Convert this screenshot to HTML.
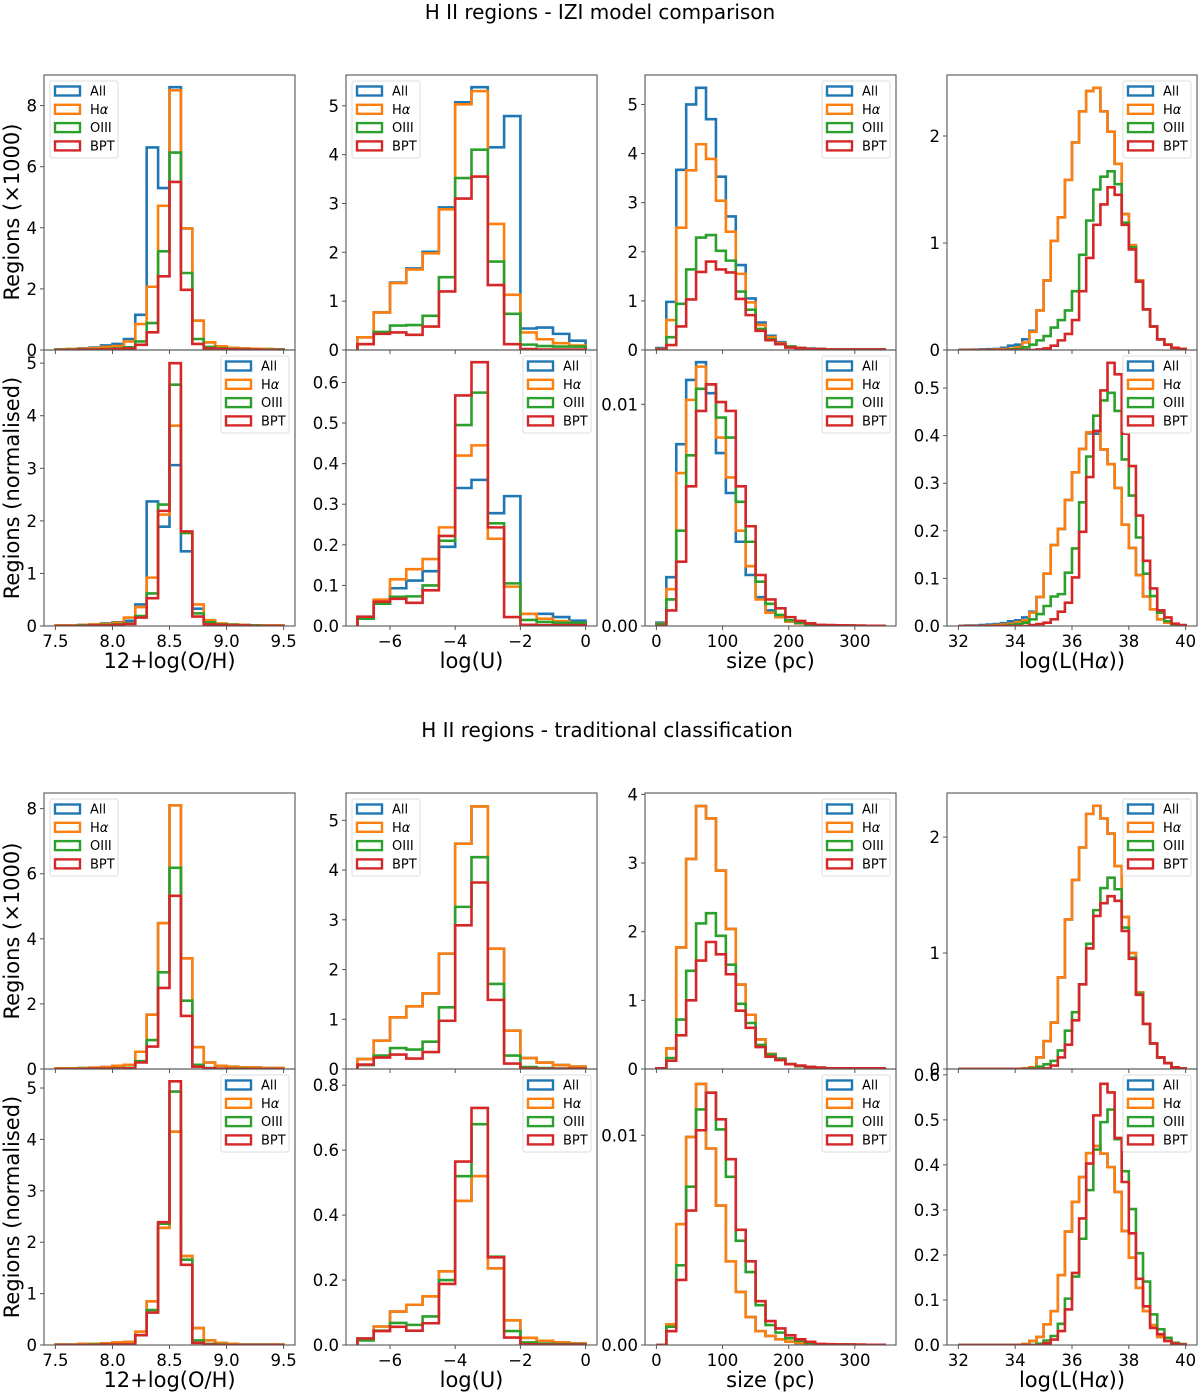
<!DOCTYPE html>
<html><head><meta charset="utf-8"><style>
html,body{margin:0;padding:0;background:#fff;}
svg{display:block;font-family:"DejaVu Sans","Liberation Sans",sans-serif;}
</style></head><body>
<svg id="fig" width="1200" height="1393" viewBox="0 0 1200 1393" xmlns="http://www.w3.org/2000/svg">
<text x="600" y="19" text-anchor="middle" font-size="20">H II regions - IZI model comparison</text>
<text x="607" y="737" text-anchor="middle" font-size="20">H II regions - traditional classification</text>
<text transform="translate(19,212) rotate(-90)" text-anchor="middle" font-size="21">Regions (×1000)</text>
<text transform="translate(19,488) rotate(-90)" text-anchor="middle" font-size="21">Regions (normalised)</text>
<text transform="translate(19,931) rotate(-90)" text-anchor="middle" font-size="21">Regions (×1000)</text>
<text transform="translate(19,1207) rotate(-90)" text-anchor="middle" font-size="21">Regions (normalised)</text>
</svg>
<script>
// bin definitions
const ohBins = [7.5, 0.1];
const uBins = [-7, 0.5];
const sizeBins = [0, 15];
const lhaBins = [32, 0.25];
const seriesNames = ["All", "Hα", "OIII", "BPT"];

// Panel A: IZI counts, 12+log(O/H)
const aAll = [0.02,0.03,0.05,0.08,0.15,0.2,0.36,1.15,6.63,5.3,8.6,3.98,0.96,0.25,0.12,0.07,0.05,0.04,0.03,0.02];
const aHa = [0.02,0.03,0.04,0.06,0.1,0.13,0.28,0.85,2.07,4.72,8.5,3.98,0.96,0.25,0.12,0.07,0.05,0.04,0.03,0.02];
const aO3 = [0.01,0.01,0.02,0.02,0.03,0.05,0.09,0.28,0.88,3.23,6.46,2.52,0.36,0.1,0.05,0.03,0.02,0.01,0.01,0.01];
const aBpt = [0,0,0.01,0.01,0.02,0.03,0.05,0.17,0.58,2.41,5.5,1.97,0.2,0.05,0.03,0.02,0.01,0.01,0,0];
// Panel B: IZI counts, log(U)
const bAll = [0.26,0.77,1.38,1.67,2.01,2.92,5.07,5.38,4.15,4.79,0.44,0.46,0.33,0.19];
const bHa = [0.26,0.77,1.37,1.65,1.98,2.88,5.03,5.3,2.58,1.13,0.36,0.22,0.14,0.09];
const bO3 = [0.12,0.37,0.5,0.51,0.7,1.49,3.52,4.1,1.81,0.74,0.11,0.08,0.07,0.07];
const bBpt = [0.12,0.33,0.36,0.31,0.48,1.2,3.1,3.55,1.33,0.12,0.02,0.01,0.01,0.01];
// Panel C: IZI counts, size
const cAll = [0.04,0.98,3.67,5.0,5.34,4.7,3.53,2.72,1.73,1.05,0.56,0.29,0.16,0.07,0.04,0.03,0.02,0.01,0.01,0.01,0.01,0.01,0.01];
const cHa = [0.02,0.61,2.49,3.66,4.19,3.89,3.04,2.41,1.55,0.97,0.51,0.26,0.14,0.07,0.04,0.02,0.02,0.01,0.01,0.01,0.01,0.01,0.01];
const cO3 = [0.01,0.26,0.94,1.64,2.29,2.34,2.02,1.82,1.19,0.82,0.43,0.22,0.12,0.07,0.04,0.02,0.02,0.01,0.01,0.01,0.01,0.01,0.01];
const cBpt = [0.01,0.1,0.48,1.03,1.59,1.8,1.64,1.58,1.04,0.71,0.39,0.2,0.12,0.05,0.04,0.02,0.02,0.01,0.01,0.01,0.01,0.01,0.01];
// Panel D: IZI counts, log L(Ha)
const dAll = [0,0.002,0.003,0.005,0.008,0.01,0.02,0.04,0.05,0.1,0.18,0.37,0.65,1.02,1.24,1.59,1.94,2.23,2.42,2.45,2.23,2.04,1.74,1.27,0.98,0.65,0.38,0.22,0.1,0.05,0.02,0.01];
const dHa = [0,0,0,0,0.002,0.005,0.008,0.012,0.025,0.07,0.17,0.37,0.65,1.02,1.24,1.59,1.94,2.23,2.42,2.45,2.23,2.04,1.74,1.27,0.98,0.65,0.38,0.22,0.1,0.05,0.02,0.01];
const dO3 = [0,0,0,0,0,0,0,0.005,0.01,0.025,0.05,0.09,0.13,0.21,0.28,0.37,0.55,0.89,1.21,1.5,1.62,1.67,1.55,1.19,0.96,0.64,0.38,0.22,0.1,0.05,0.02,0.01];
const dBpt = [0,0,0,0,0,0,0,0,0,0,0,0.005,0.015,0.04,0.09,0.15,0.28,0.55,0.86,1.17,1.36,1.52,1.45,1.17,0.94,0.64,0.38,0.22,0.1,0.05,0.02,0.01];
// Panel E: IZI normalised, O/H
const eAll = [0.01,0.01,0.02,0.03,0.05,0.07,0.1,0.41,2.37,1.89,3.06,1.42,0.33,0.09,0.04,0.03,0.02,0.01,0.01,0.01];
const eHa = [0.01,0.01,0.02,0.03,0.04,0.06,0.16,0.36,0.92,2.12,3.81,1.77,0.41,0.11,0.05,0.03,0.02,0.01,0.01,0.01];
const eO3 = [0,0,0.01,0.01,0.02,0.03,0.05,0.19,0.62,2.31,4.59,1.77,0.24,0.07,0.03,0.02,0.01,0.01,0,0];
const eBpt = [0,0,0,0.01,0.01,0.02,0.04,0.16,0.53,2.19,5.0,1.8,0.18,0.03,0.02,0.01,0.01,0,0,0];
// Panel F: IZI normalised, log(U)
const fAll = [0.02,0.055,0.093,0.112,0.135,0.195,0.34,0.36,0.278,0.32,0.03,0.03,0.022,0.013];
const fHa = [0.02,0.065,0.115,0.14,0.165,0.243,0.42,0.445,0.215,0.097,0.03,0.018,0.012,0.008];
const fO3 = [0.018,0.055,0.072,0.073,0.1,0.21,0.495,0.575,0.253,0.105,0.015,0.01,0.008,0.008];
const fBpt = [0.023,0.06,0.067,0.057,0.088,0.222,0.568,0.65,0.243,0.022,0.003,0.002,0.002,0.002];
// Panel G: IZI normalised, size
const gAll = [0.00015,0.0022,0.0082,0.0111,0.0119,0.0105,0.0078,0.006,0.0038,0.0023,0.0013,0.0007,0.0004,0.0002,0.00012,0.00007,0.00003,0.00003,0.00002,0.00002,0.00001,0.00001,0.00001];
const gHa = [0.0001,0.00166,0.0069,0.0102,0.0117,0.0109,0.0085,0.0067,0.0043,0.0027,0.0012,0.0006,0.0004,0.0002,0.00012,0.00007,0.00003,0.00003,0.00002,0.00002,0.00001,0.00001,0.00001];
const gO3 = [0.00008,0.0012,0.0043,0.0077,0.0107,0.0109,0.0094,0.0085,0.0056,0.0038,0.002,0.001,0.0005,0.00026,0.00015,0.00008,0.00004,0.00003,0.00002,0.00002,0.00001,0.00001,0.00001];
const gBpt = [0,0.0007,0.0029,0.0063,0.0097,0.0109,0.0101,0.0097,0.0063,0.0045,0.0023,0.0012,0.0008,0.0004,0.00023,0.00012,0.00005,0.00004,0.00003,0.00002,0.00002,0.00001,0.00001];
// Panel H: IZI normalised, log L(Ha)
const hAll = [0,0.001,0.001,0.002,0.003,0.004,0.006,0.01,0.012,0.018,0.03,0.061,0.11,0.17,0.204,0.265,0.323,0.372,0.405,0.404,0.371,0.34,0.29,0.213,0.164,0.107,0.062,0.035,0.014,0.007,0.003,0.001];
const hHa = [0,0,0,0,0.001,0.002,0.003,0.005,0.008,0.012,0.028,0.061,0.11,0.17,0.204,0.265,0.323,0.372,0.407,0.41,0.371,0.34,0.29,0.213,0.164,0.107,0.062,0.035,0.014,0.007,0.003,0.001];
const hO3 = [0,0,0,0,0,0,0,0.002,0.004,0.007,0.014,0.025,0.042,0.062,0.067,0.112,0.163,0.26,0.356,0.442,0.474,0.49,0.452,0.35,0.274,0.186,0.11,0.063,0.028,0.01,0.004,0.001];
const hBpt = [0,0,0,0,0,0,0,0,0,0,0.002,0.004,0.007,0.014,0.03,0.049,0.102,0.198,0.313,0.41,0.495,0.553,0.529,0.404,0.336,0.232,0.137,0.079,0.033,0.018,0.005,0.002];
// Panel I: traditional counts, O/H
const iAll = [0.02,0.02,0.03,0.04,0.06,0.1,0.13,0.53,1.67,4.48,8.1,3.4,0.67,0.2,0.1,0.07,0.05,0.05,0.03,0.03];
const iHa = [0.02,0.02,0.03,0.04,0.06,0.1,0.13,0.53,1.67,4.48,8.1,3.4,0.67,0.2,0.1,0.07,0.05,0.05,0.03,0.03];
const iO3 = [0,0,0.01,0.01,0.01,0.02,0.03,0.24,0.89,2.97,6.18,2.1,0.13,0.03,0.01,0.01,0.01,0,0,0];
const iBpt = [0,0,0,0.01,0.01,0.01,0.02,0.2,0.69,2.49,5.32,1.63,0.07,0.02,0.01,0,0,0,0,0];
// Panel J: traditional counts, log(U)
const jAll = [0.2,0.57,1.04,1.26,1.52,2.32,4.53,5.28,2.42,0.77,0.22,0.13,0.08,0.05];
const jHa = [0.2,0.57,1.04,1.26,1.52,2.32,4.53,5.28,2.42,0.77,0.22,0.13,0.08,0.05];
const jO3 = [0.08,0.27,0.42,0.39,0.55,1.24,3.26,4.26,1.71,0.27,0.04,0.02,0.01,0.01];
const jBpt = [0.09,0.23,0.29,0.21,0.34,0.97,2.89,3.75,1.39,0.11,0.01,0.005,0.005,0.005];
// Panel K: traditional counts, size
const kAll = [0.01,0.3,1.77,3.06,3.83,3.65,2.89,2.04,1.23,0.79,0.43,0.22,0.15,0.07,0.04,0.03,0.02,0.01,0.01,0.01,0.01,0.01,0.01];
const kHa = [0.01,0.3,1.77,3.06,3.83,3.65,2.89,2.04,1.23,0.79,0.43,0.22,0.15,0.07,0.04,0.03,0.02,0.01,0.01,0.01,0.01,0.01,0.01];
const kO3 = [0.01,0.16,0.72,1.43,2.12,2.27,1.94,1.52,0.95,0.67,0.35,0.21,0.15,0.07,0.04,0.03,0.02,0.01,0.01,0.01,0.01,0.01,0.01];
const kBpt = [0.01,0.12,0.49,1.0,1.58,1.85,1.67,1.38,0.85,0.6,0.32,0.18,0.13,0.07,0.05,0.03,0.02,0.01,0.01,0.01,0.01,0.01,0.01];
// Panel L: traditional counts, log L(Ha)
const lAll = [0,0,0,0,0,0,0,0,0.002,0.005,0.015,0.1,0.24,0.4,0.79,1.29,1.63,1.91,2.2,2.27,2.16,2.03,1.75,1.31,1.0,0.66,0.39,0.22,0.1,0.05,0.015,0.005];
const lHa = [0,0,0,0,0,0,0,0,0.002,0.005,0.015,0.1,0.24,0.4,0.79,1.29,1.63,1.91,2.2,2.27,2.16,2.03,1.75,1.31,1.0,0.66,0.39,0.22,0.1,0.05,0.015,0.005];
const lO3 = [0,0,0,0,0,0,0,0,0,0,0.005,0.02,0.04,0.07,0.16,0.33,0.49,0.73,1.08,1.37,1.56,1.65,1.55,1.22,0.96,0.65,0.39,0.22,0.1,0.05,0.015,0.005];
const lBpt = [0,0,0,0,0,0,0,0,0,0,0,0,0.005,0.03,0.1,0.21,0.42,0.73,1.04,1.32,1.43,1.49,1.45,1.19,0.95,0.64,0.39,0.22,0.1,0.05,0.015,0.005];
// Panel M: traditional normalised, O/H
const mAll = [0.01,0.01,0.02,0.02,0.03,0.05,0.06,0.26,0.85,2.28,4.15,1.73,0.33,0.09,0.04,0.02,0.01,0.01,0.01,0.01];
const mHa = [0.01,0.01,0.02,0.02,0.03,0.05,0.06,0.26,0.85,2.28,4.15,1.73,0.33,0.09,0.04,0.02,0.01,0.01,0.01,0.01];
const mO3 = [0,0,0,0.01,0.01,0.01,0.01,0.19,0.68,2.36,4.93,1.66,0.09,0.02,0.01,0,0,0,0,0];
const mBpt = [0,0,0,0,0.01,0.01,0.01,0.19,0.63,2.39,5.13,1.56,0.04,0.01,0,0,0,0,0,0];
// Panel N: traditional normalised, log(U)
const nAll = [0.02,0.057,0.103,0.124,0.15,0.227,0.444,0.52,0.236,0.076,0.022,0.013,0.008,0.005];
const nHa = [0.02,0.057,0.103,0.124,0.15,0.227,0.444,0.52,0.236,0.076,0.022,0.013,0.008,0.005];
const nO3 = [0.014,0.044,0.068,0.062,0.088,0.2,0.52,0.68,0.272,0.043,0.008,0.004,0.003,0.002];
const nBpt = [0.02,0.043,0.056,0.044,0.067,0.188,0.565,0.73,0.27,0.023,0.002,0.001,0.001,0.001];
// Panel O: traditional normalised, size
const oAll = [0,0.00098,0.00576,0.00992,0.01245,0.00937,0.00665,0.00399,0.00253,0.00133,0.00066,0.00043,0.00027,0.00016,0.0001,0.00006,0.00003,0.00003,0.00002,0.00002,0.00001,0.00001,0.00001];
const oHa = [0,0.00098,0.00576,0.00992,0.01245,0.00937,0.00665,0.00399,0.00253,0.00133,0.00066,0.00043,0.00027,0.00016,0.0001,0.00006,0.00003,0.00003,0.00002,0.00002,0.00001,0.00001,0.00001];
const oO3 = [0,0.00087,0.0038,0.00755,0.01123,0.01203,0.01028,0.00802,0.00497,0.00348,0.0019,0.00095,0.00059,0.00032,0.0002,0.0001,0.00004,0.00003,0.00002,0.00002,0.00001,0.00001,0.00001];
const oBpt = [0,0.00066,0.0031,0.00641,0.01024,0.01203,0.01076,0.00886,0.00549,0.00399,0.00209,0.00114,0.00079,0.00046,0.00027,0.00015,0.00005,0.00004,0.00003,0.00002,0.00002,0.00001,0.00001];
// Panel P: traditional normalised, log L(Ha)
const pAll = [0,0,0,0,0,0,0,0,0,0.002,0.009,0.018,0.046,0.075,0.155,0.252,0.318,0.373,0.426,0.442,0.425,0.395,0.34,0.253,0.194,0.127,0.075,0.044,0.018,0.009,0.003,0.001];
const pHa = [0,0,0,0,0,0,0,0,0,0.002,0.009,0.018,0.046,0.075,0.155,0.252,0.318,0.373,0.426,0.442,0.425,0.395,0.34,0.253,0.194,0.127,0.075,0.044,0.018,0.009,0.003,0.001];
const pO3 = [0,0,0,0,0,0,0,0,0,0,0,0.003,0.01,0.02,0.047,0.103,0.152,0.236,0.344,0.434,0.495,0.523,0.457,0.386,0.302,0.204,0.141,0.068,0.035,0.016,0.005,0.002];
const pBpt = [0,0,0,0,0,0,0,0,0,0,0,0,0.004,0.012,0.031,0.079,0.16,0.281,0.403,0.51,0.58,0.561,0.46,0.362,0.248,0.147,0.086,0.038,0.024,0.009,0.003,0.001];

// tick labels
const ohTicks = [7.5, 8.0, 8.5, 9.0, 9.5];
const ohTickLabels = ["7.5", "8.0", "8.5", "9.0", "9.5"];
const uTicks = [-6, -4, -2, 0];
const uTickLabels = ["−6", "−4", "−2", "0"];
const sizeTicks = [0, 100, 200, 300];
const sizeTickLabels = ["0", "100", "200", "300"];
const lhaTicks = [32, 34, 36, 38, 40];
const lhaTickLabels = ["32", "34", "36", "38", "40"];

const NS = "http://www.w3.org/2000/svg";
const svg = document.getElementById("fig");
const colors = ["#1f77b4", "#ff7f0e", "#2ca02c", "#d62728"];
const colX = [[44,295],[346,597],[645,896],[947,1197]];
const rowY = [[75,350],[350,626],[793,1069],[1069,1345]];
const xAxes = [
  {lim:[7.4,9.6], bins:ohBins, ticks:ohTicks, labels:ohTickLabels, title:"12+log(O/H)", key:"oh"},
  {lim:[-7.35,0.35], bins:uBins, ticks:uTicks, labels:uTickLabels, title:"log(U)", key:"logu"},
  {lim:[-17.25,362.25], bins:sizeBins, ticks:sizeTicks, labels:sizeTickLabels, title:"size (pc)", key:"size"},
  {lim:[31.6,40.4], bins:lhaBins, ticks:lhaTicks, labels:lhaTickLabels, title:"log(L(Hα))", key:"lha"}
];
function el(tag, attrs, parent){
  const e = document.createElementNS(NS, tag);
  for (const k in attrs) e.setAttribute(k, attrs[k]);
  (parent || svg).appendChild(e);
  return e;
}
const panels = [
  {r:0,c:0,s:[aAll,aHa,aO3,aBpt],ymax:9.0,yt:[0,2,4,6,8],dec:0,leg:"left"},
  {r:0,c:1,s:[bAll,bHa,bO3,bBpt],ymax:5.63,yt:[0,1,2,3,4,5],dec:0,leg:"left"},
  {r:0,c:2,s:[cAll,cHa,cO3,cBpt],ymax:5.6,yt:[0,1,2,3,4,5],dec:0,leg:"right"},
  {r:0,c:3,s:[dAll,dHa,dO3,dBpt],ymax:2.57,yt:[0,1,2],dec:0,leg:"right"},
  {r:1,c:0,s:[eAll,eHa,eO3,eBpt],ymax:5.25,yt:[0,1,2,3,4,5],dec:0,leg:"right"},
  {r:1,c:1,s:[fAll,fHa,fO3,fBpt],ymax:0.68,yt:[0,0.1,0.2,0.3,0.4,0.5,0.6],dec:1,leg:"right"},
  {r:1,c:2,s:[gAll,gHa,gO3,gBpt],ymax:0.01245,yt:[0,0.01],dec:2,leg:"right"},
  {r:1,c:3,s:[hAll,hHa,hO3,hBpt],ymax:0.58,yt:[0,0.1,0.2,0.3,0.4,0.5],dec:1,leg:"right"},
  {r:2,c:0,s:[iAll,iHa,iO3,iBpt],ymax:8.48,yt:[0,2,4,6,8],dec:0,leg:"left"},
  {r:2,c:1,s:[jAll,jHa,jO3,jBpt],ymax:5.55,yt:[0,1,2,3,4,5],dec:0,leg:"left"},
  {r:2,c:2,s:[kAll,kHa,kO3,kBpt],ymax:4.02,yt:[0,1,2,3,4],dec:0,leg:"right"},
  {r:2,c:3,s:[lAll,lHa,lO3,lBpt],ymax:2.38,yt:[0,1,2],dec:0,leg:"right"},
  {r:3,c:0,s:[mAll,mHa,mO3,mBpt],ymax:5.37,yt:[0,1,2,3,4,5],dec:0,leg:"right"},
  {r:3,c:1,s:[nAll,nHa,nO3,nBpt],ymax:0.85,yt:[0,0.2,0.4,0.6,0.8],dec:1,leg:"right"},
  {r:3,c:2,s:[oAll,oHa,oO3,oBpt],ymax:0.01316,yt:[0,0.01],dec:2,leg:"right"},
  {r:3,c:3,s:[pAll,pHa,pO3,pBpt],ymax:0.613,yt:[0,0.1,0.2,0.3,0.4,0.5,0.6],dec:1,leg:"right"}
];
const rowNames = ["izi-counts","izi-normalised","traditional-counts","traditional-normalised"];
panels.forEach((p, pi) => {
  const [X0, X1] = colX[p.c], [Y0, Y1] = rowY[p.r];
  const ax = xAxes[p.c];
  const sx = v => X0 + (v - ax.lim[0]) / (ax.lim[1] - ax.lim[0]) * (X1 - X0);
  const sy = v => Y1 - v / p.ymax * (Y1 - Y0);
  const g = el("g", {});
  
  
  const cid = "clip" + pi;
  const cp = el("clipPath", {id: cid}, g);
  el("rect", {x: X0, y: Y0, width: X1 - X0, height: Y1 - Y0}, cp);
  p.s.forEach((vals, si) => {
    const [start, w] = ax.bins;
    let d = "M" + sx(start).toFixed(2) + "," + sy(0).toFixed(2);
    vals.forEach((v, i) => {
      const xa = sx(start + i * w), xb = sx(start + (i + 1) * w), y = sy(v);
      d += " L" + xa.toFixed(2) + "," + y.toFixed(2) + " L" + xb.toFixed(2) + "," + y.toFixed(2);
    });
    d += " L" + sx(start + vals.length * w).toFixed(2) + "," + sy(0).toFixed(2);
    const path = el("path", {d: d, fill: "none", stroke: colors[si], "stroke-width": 2.6, "stroke-linejoin": "miter", "clip-path": "url(#" + cid + ")"}, g);
    
    
  });
  const fr = el("rect", {x: X0, y: Y0, width: X1 - X0, height: Y1 - Y0, fill: "none", stroke: "#555", "stroke-width": 1.1}, g);
  
  
  p.yt.forEach(t => {
    const y = sy(t);
    el("line", {x1: X0 - 4, x2: X0, y1: y, y2: y, stroke: "#555", "stroke-width": 1}, g);
    const tx = el("text", {x: X0 - 7, y: y + 6, "text-anchor": "end", "font-size": 16.5}, g);
    tx.textContent = t.toFixed(p.dec);
    
    
  });
  ax.ticks.forEach((t, ti) => {
    const x = sx(t);
    el("line", {x1: x, x2: x, y1: Y1, y2: Y1 + 4, stroke: "#555", "stroke-width": 1}, g);
    if (p.r === 1 || p.r === 3) {
      const tx = el("text", {x: x, y: Y1 + 21, "text-anchor": "middle", "font-size": 16.5}, g);
      tx.textContent = ax.labels[ti];
      
      
    }
  });
  if (p.r === 1 || p.r === 3) {
    const xt = el("text", {x: (X0 + X1) / 2, y: Y1 + 42, "text-anchor": "middle", "font-size": 21}, g);
    if (ax.key === "lha") {
      xt.innerHTML = 'log(L(H<tspan font-style="italic">α</tspan>))';
    } else {
      xt.textContent = ax.title;
    }
    
    
  }
  const lw = 68, lh = 77;
  const lx = p.leg === "left" ? X0 + 6 : X1 - 6 - lw;
  const ly = Y0 + 6;
  const lg = el("g", {}, g);
  
  
  el("rect", {x: lx, y: ly, width: lw, height: lh, rx: 2, fill: "#fff", "fill-opacity": 0.85, stroke: "#ddd", "stroke-width": 1}, lg);
  seriesNames.forEach((nm, si) => {
    const cy = ly + 10 + si * 18.3;
    const ent = el("g", {}, lg);
    
    
    el("rect", {x: lx + 5, y: cy - 4.5, width: 25, height: 9, fill: "none", stroke: colors[si], "stroke-width": 2.4}, ent);
    const t = el("text", {x: lx + 40, y: cy + 4.5, "font-size": 13}, ent);
    if (nm === "Hα") t.innerHTML = 'H<tspan font-style="italic">α</tspan>';
    else t.textContent = nm;
  });
});
</script>
</body></html>
